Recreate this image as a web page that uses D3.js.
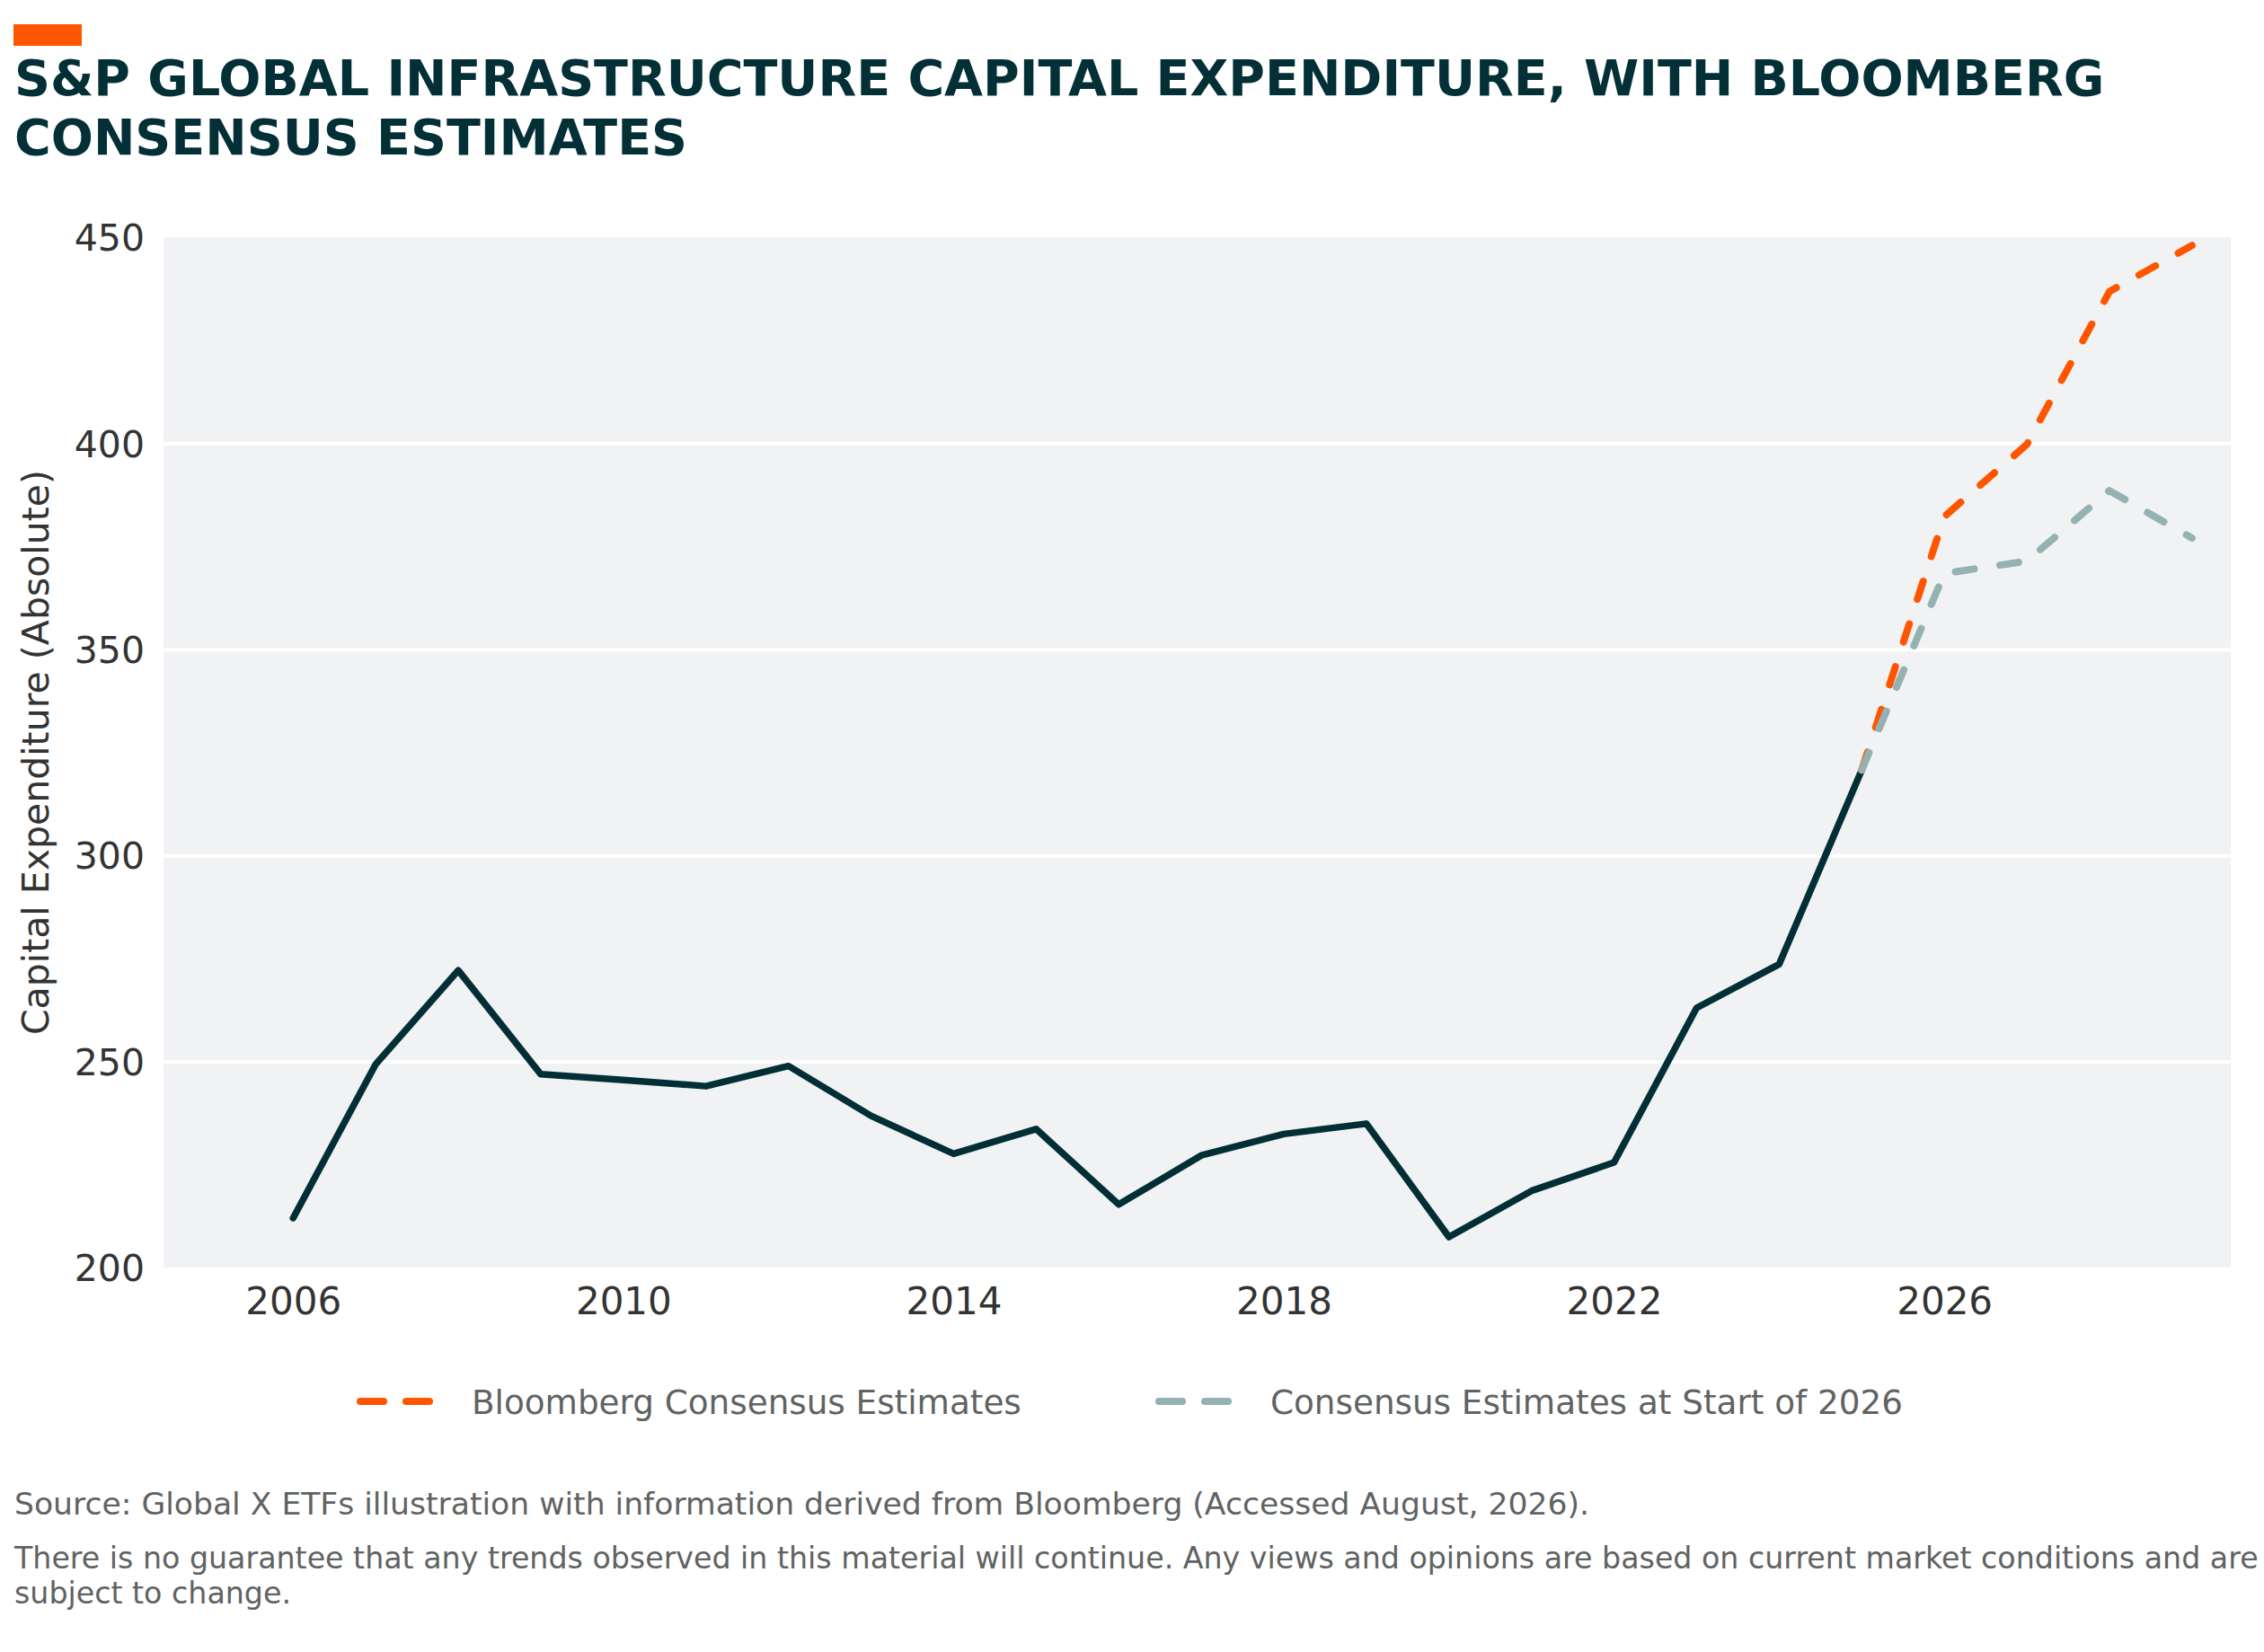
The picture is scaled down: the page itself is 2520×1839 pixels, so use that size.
<!DOCTYPE html>
<html>
<head>
<meta charset="utf-8">
<script src="https://cdn.jsdelivr.net/npm/d3@7"></script>
<style>
  body { margin: 0; background: #fff; }
  svg { display: block; font-family: "DejaVu Sans", sans-serif; }
</style>
</head>
<body>
<div id="chart-area"></div>
<script>
// historical capex, 2006-2025
var histYears = [2006, 2007, 2008, 2009, 2010, 2011, 2012, 2013, 2014, 2015,
                 2016, 2017, 2018, 2019, 2020, 2021, 2022, 2023, 2024, 2025];
var histCapex = [212.0, 249.3, 272.1, 246.9, 245.5, 244.0, 248.9, 236.8, 227.6, 233.6,
                 215.3, 227.2, 232.4, 234.9, 207.4, 218.6, 225.5, 263.0, 273.6, 320.7];

// estimates, 2025-2029
var estYears = [2025, 2026, 2027, 2028, 2029];
var bloombergEst = [320.7, 382.2, 399.7, 436.8, 448.0];
var startOf2026Est = [320.7, 368.4, 371.4, 388.5, 377.0];

var xTicks = [2006, 2010, 2014, 2018, 2022, 2026];
var yTicks = [200, 250, 300, 350, 400, 450];

var seriesNames = ["Bloomberg Consensus Estimates", "Consensus Estimates at Start of 2026"];

var W = 2520, H = 1839;
var plot = { left: 182, right: 2483, top: 264, bottom: 1411 };

var svg = d3.select("#chart-area")
  .append("svg")
  .attr("width", W)
  .attr("height", H);

// title block
svg.append("rect")
  .attr("x", 15).attr("y", 27)
  .attr("width", 76).attr("height", 24)
  .attr("fill", "#ff5500");

svg.append("text")
  .attr("x", 16).attr("y", 106)
  .attr("font-size", 55.5).attr("font-weight", "bold")
  .attr("fill", "#032f36")
  .text("S&P GLOBAL INFRASTRUCTURE CAPITAL EXPENDITURE, WITH BLOOMBERG");
svg.append("text")
  .attr("x", 16).attr("y", 172)
  .attr("font-size", 55.5).attr("font-weight", "bold")
  .attr("fill", "#032f36")
  .text("CONSENSUS ESTIMATES");

// scales
var x = d3.scaleLinear()
  .domain([2004.43, 2029.47])
  .range([plot.left, plot.right]);

var y = d3.scaleLinear()
  .domain([200, 450])
  .range([plot.bottom, plot.top]);

// panel
svg.append("rect")
  .attr("x", plot.left).attr("y", plot.top)
  .attr("width", plot.right - plot.left)
  .attr("height", plot.bottom - plot.top)
  .attr("fill", "#f1f2f4");

// y axis + horizontal grid
var yAxis = svg.append("g")
  .attr("transform", "translate(" + plot.left + ",0)")
  .call(d3.axisLeft(y)
    .tickValues(yTicks)
    .tickSize(-(plot.right - plot.left))
    .tickPadding(21)
    .tickFormat(d3.format("d")));
yAxis.select(".domain").remove();
yAxis.selectAll(".tick line")
  .attr("stroke", "#ffffff")
  .attr("stroke-width", 4)
  .attr("display", d => (d === 200 || d === 450) ? "none" : null);
yAxis.selectAll(".tick text")
  .attr("font-size", 41)
  .attr("font-family", "DejaVu Sans")
  .attr("fill", "#333333")
  .attr("dy", "0.36em");

// x axis
var xAxis = svg.append("g")
  .attr("transform", "translate(0," + plot.bottom + ")")
  .call(d3.axisBottom(x)
    .tickValues(xTicks)
    .tickSize(0)
    .tickPadding(22)
    .tickFormat(d3.format("d")));
xAxis.select(".domain").remove();
xAxis.selectAll(".tick text")
  .attr("font-size", 42)
  .attr("font-family", "DejaVu Sans")
  .attr("fill", "#333333");

// y axis title
svg.append("text")
  .attr("transform", "translate(40," + ((plot.top + plot.bottom) / 2) + ") rotate(-90)")
  .attr("text-anchor", "middle")
  .attr("dominant-baseline", "central")
  .attr("font-size", 41)
  .attr("fill", "#333333")
  .text("Capital Expenditure (Absolute)");

// lines
var line = d3.line()
  .x(d => x(d[0]))
  .y(d => y(d[1]));

svg.append("path")
  .datum(d3.zip(histYears, histCapex))
  .attr("d", line)
  .attr("fill", "none")
  .attr("stroke", "#022f36")
  .attr("stroke-width", 7.5)
  .attr("stroke-linejoin", "round")
  .attr("stroke-linecap", "round");

svg.append("path")
  .datum(d3.zip(estYears, bloombergEst))
  .attr("d", line)
  .attr("fill", "none")
  .attr("stroke", "#ff5500")
  .attr("stroke-width", 8)
  .attr("stroke-dasharray", "21,29")
  .attr("stroke-linejoin", "round")
  .attr("stroke-linecap", "round");

svg.append("path")
  .datum(d3.zip(estYears, startOf2026Est))
  .attr("d", line)
  .attr("fill", "none")
  .attr("stroke", "#94b2b2")
  .attr("stroke-width", 8)
  .attr("stroke-dasharray", "21,29")
  .attr("stroke-linejoin", "round")
  .attr("stroke-linecap", "round");

// legend
var legendItems = [
  { name: seriesNames[0], color: "#ff5500", x: 401 },
  { name: seriesNames[1], color: "#94b2b2", x: 1290 }
];
var lg = svg.selectAll(".legend")
  .data(legendItems)
  .enter()
  .append("g")
  .attr("class", "legend")
  .attr("transform", d => "translate(" + d.x + ",1560)");
lg.append("line")
  .attr("x1", 0).attr("x2", 78)
  .attr("y1", 0).attr("y2", 0)
  .attr("stroke", d => d.color)
  .attr("stroke-width", 8)
  .attr("stroke-linecap", "round")
  .attr("stroke-dasharray", "26,25");
lg.append("text")
  .attr("x", 124)
  .attr("y", 14)
  .attr("font-size", 37.3)
  .attr("fill", "#5f6362")
  .text(d => d.name);

// footer
svg.append("text")
  .attr("x", 16).attr("y", 1686)
  .attr("font-size", 34.6)
  .attr("fill", "#5f6362")
  .text("Source: Global X ETFs illustration with information derived from Bloomberg (Accessed August, 2026).");

var disc1 = svg.append("text")
  .attr("x", 16).attr("y", 1746)
  .attr("font-size", 34)
  .attr("fill", "#5f6362")
  .text("There is no guarantee that any trends observed in this material will continue. Any views and opinions are based on current market conditions and are");
// the first disclaimer line runs right up to the page edge
var w1 = disc1.node().getComputedTextLength();
var discSize = 34 * 2498 / w1;
disc1.attr("font-size", discSize);

svg.append("text")
  .attr("x", 16).attr("y", 1785)
  .attr("font-size", discSize)
  .attr("fill", "#5f6362")
  .text("subject to change.");
</script>
</body>
</html>
